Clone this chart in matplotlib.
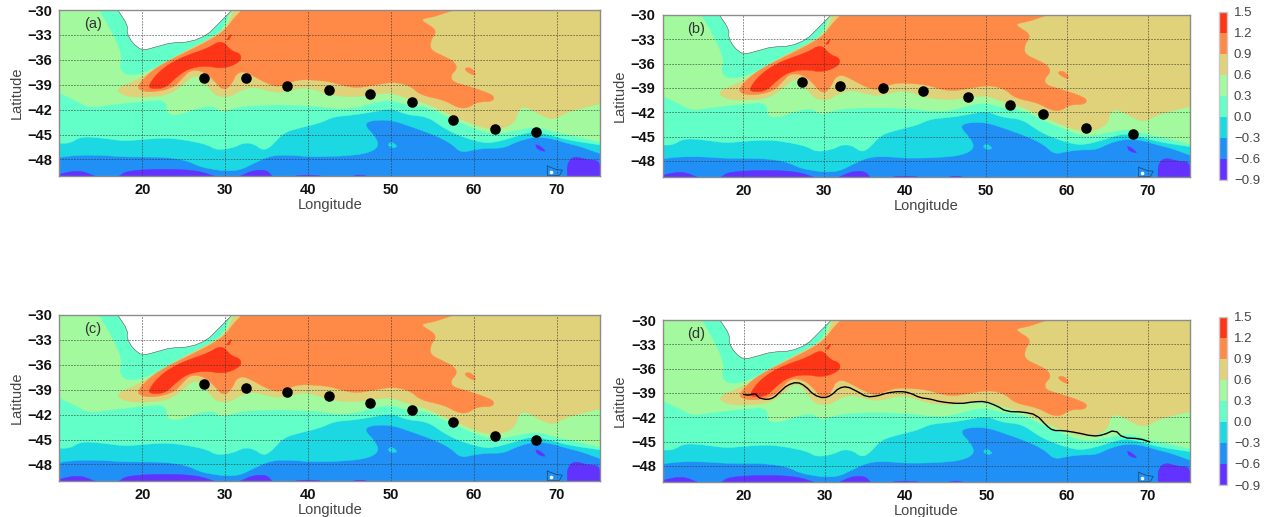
import numpy as np
import matplotlib
matplotlib.use("Agg")
import matplotlib.pyplot as plt
from matplotlib.colors import ListedColormap, BoundaryNorm
from matplotlib.cm import ScalarMappable

plt.rcParams['font.family'] = ['Liberation Sans', 'DejaVu Sans']

levels = [-0.9, -0.6, -0.3, 0.0, 0.3, 0.6, 0.9, 1.2, 1.5]
colors = ['#6232FF', '#2090F7', '#1CD8E2', '#63FFC8', '#A3F99D', '#DFD27A', '#FF8A47', '#FF3518']
xticks = [20, 30, 40, 50, 60, 70]
yticks = [-30, -33, -36, -39, -42, -45, -48]
panel_labels = ['(a)', '(b)', '(c)', '(d)']

# Contour boundaries (longitude, latitude)
bound_m03 = [(10,-47.75),(12.2,-47.5),(15,-47.5),(17.8,-47.7),(20,-47.7),(23,-47.75),(25.4,-48.15),(27,-48.9),(28.6,-49.2),(30,-49.4),(31.8,-49.3),(33.4,-48.5),(35.6,-47.5),(38.2,-47.5),(40.3,-47.7),(44.3,-47.6),(47.1,-47.3),(48.55,-46.5),(48.15,-45.3),(46.75,-43.85),(47.55,-43.3),(50,-43.25),(52.4,-44.05),(55.2,-45.05),(57.2,-46.05),(58.4,-47.2),(60,-46.85),(61.6,-46.65),(63.6,-46.65),(65.2,-45.85),(67.2,-45.3),(69.2,-45.45),(71.2,-46.05),(72.85,-46.45),(75.2,-47.3)]
bound_00 = [(10,-46.05),(11.3,-46.05),(12.6,-45.25),(15,-45.4),(17.8,-45.8),(20,-45.6),(23,-45.4),(25.4,-45.7),(27.8,-46.2),(29,-46.9),(31,-46.6),(32.2,-46),(33.4,-46.1),(34.6,-46.95),(35.6,-46.4),(37,-44.8),(39,-44.2),(41.5,-43.6),(43.1,-42.85),(45.5,-42.65),(48,-42.25),(50,-41.85),(52,-42.65),(54.4,-42.85),(56.4,-44.25),(58,-45.05),(60.4,-45.85),(62,-46.05),(64.4,-45.45),(66.8,-44.65),(68.4,-44.85),(71.2,-45.65),(75.2,-46.25)]
bound_03 = [(10,-40),(12.2,-41),(13.6,-41.8),(16.2,-41.4),(20,-41),(22.9,-40.75),(23,-42.6),(24.6,-42.6),(26.6,-41.8),(28.6,-41.5),(29.6,-42.4),(31,-41.8),(33,-41.5),(37,-41.4),(41.4,-41.6),(42.7,-41.85),(45.5,-41.85),(48.35,-41.05),(50,-40.85),(52,-41.45),(54.4,-41.65),(57.2,-43.05),(59.6,-44.05),(61.6,-44.85),(63.6,-44.85),(65.2,-44.45),(67.6,-44.05),(69.6,-44.65),(72.45,-45.25),(75.2,-45.9)]
bound_06 = [(31.04,-30),(30.24,-32),(28.64,-33.2),(25.44,-34.8),(22.24,-36.6),(19.84,-38.25),(16.64,-39.55),(18.04,-40.45),(20.64,-40.5),(23.04,-40.25),(24.64,-39.25),(26.04,-37.95),(27.04,-38),(28.04,-39.4),(29.04,-40.45),(30.64,-40.45),(31.84,-39.65),(33.44,-39.25),(35.04,-39.7),(36.64,-40),(39.04,-39.4),(40.3,-39.4),(42.7,-40.25),(45.5,-40.5),(48.35,-40.1),(50,-39.95),(52,-40.65),(54.4,-41.3),(57.2,-42.65),(59.6,-43.65),(61.6,-44.35),(63.6,-44.25),(65,-43.45),(65.4,-41.85),(66.4,-41.65),(68,-42.65),(69.6,-43.25),(71.25,-42.25),(75.2,-41.3)]
bound_09 = [(32.04,-30),(31.04,-31),(29.84,-32.6),(27.84,-33.8),(25.44,-35),(23.04,-36.2),(21.04,-37.4),(19.24,-39.3),(20.24,-39.85),(21.84,-39.85),(23.84,-39.3),(24.84,-38.2),(25.84,-37.2),(27.44,-37.4),(28.64,-38.45),(29.44,-39.45),(30.24,-39.55),(31.04,-38.45),(31.24,-37.85),(32.04,-37.35),(33.24,-37.85),(34.64,-38.65),(36.24,-39.3),(37.44,-38.85),(39.04,-38.35),(41.44,-38.5),(42.7,-38.65),(45.5,-39.45),(47.95,-39.05),(50.35,-38.65),(52.35,-39.15),(53.55,-40.25),(56.4,-40.85),(58,-41.75),(59.2,-41.85),(60.4,-41.05),(62.2,-41.05),(62.5,-40.45),(61.6,-39.95),(59.2,-39.15),(57.4,-38.65),(57.2,-37.85),(58,-37.05),(57.6,-36.2),(56.4,-35.6),(54.7,-34.8),(54.8,-33.6),(55.4,-32.8),(55.2,-32.2),(54.2,-31.6),(53.6,-31.1),(55.2,-30.8),(56.4,-30.4),(57.6,-30)]

aqua_north = [(14.84,-30),(16.24,-32.4),(17.64,-35.4),(17.24,-37),(18.04,-37.85),(19.84,-37.7),(21.84,-36.8),(24.24,-35.6),(27.04,-34.2),(29.04,-33),(30.08,-31.6),(30.6,-30)]
red_main = [(20.7,-39.2),(21.7,-37.75),(23.3,-36.45),(25.4,-35.45),(27.8,-34.65),(29.6,-33.6),(30.7,-34.9),(31.9,-35.3),(31.9,-36.2),(29.9,-37.1),(27.5,-36.7),(25.5,-37.1),(24.1,-38.1),(22.8,-39.4),(21.2,-39.5)]
red_small = [(30.16,-33.6),(30.64,-32.95),(30.76,-33),(30.48,-33.6)]
orange_island = [(58.8,-37.05),(59.5,-36.9),(60.1,-37.4),(60.2,-37.95),(59.3,-37.55)]
cyan_island = [(49.55,-46.25),(50.05,-45.85),(50.85,-46.45),(50.15,-46.65)]
purple_blobs = [
    [(10,-50),(10,-49.75),(12.44,-49.3),(14.24,-50)],
    [(17.24,-50),(18.24,-49.35),(23.04,-49.15),(26.64,-49.35),(28.64,-50)],
    [(31.84,-50),(33.44,-49.3),(35.04,-49.3),(35.64,-50)],
    [(38.5,-50),(40,-49.85),(41.5,-50)],
    [(45.5,-50),(46.2,-49.85),(47,-50)],
    [(71.25,-50),(71.25,-48.45),(72.05,-47.6),(73.65,-48.05),(75.2,-48.15),(75.2,-50)],
    [(67.45,-46.25),(67.85,-46.3),(68.75,-47.05),(68.05,-46.95),(67.6,-46.65)],
]
land = [(17.04,-30),(18.24,-31.8),(18.16,-32.8),(18.84,-34),(20,-34.9),(21.84,-34.4),(23.44,-33.95),(25.84,-33.85),(27.84,-33),(29.04,-31.8),(30.24,-30.6),(30.84,-30)]
kerguelen = [(68.85,-48.8),(69.85,-49.2),(70.65,-49.3),(70.3,-49.95),(68.85,-49.95)]
kerguelen_dot = (69.25, -49.5)

dots_a_lon = [27.5, 32.5, 37.5, 42.5, 47.5, 52.5, 57.5, 62.5, 67.5]
dots_a_lat = [-38.2, -38.2, -39.1, -39.6, -40.1, -41.1, -43.2, -44.3, -44.7]
dots_b_lon = [27.3, 32.0, 37.2, 42.2, 47.7, 53.0, 57.0, 62.4, 68.1]
dots_b_lat = [-38.3, -38.8, -39.0, -39.4, -40.1, -41.1, -42.2, -44.0, -44.7]
dots_c_lon = [27.5, 32.5, 37.5, 42.5, 47.5, 52.5, 57.5, 62.5, 67.5]
dots_c_lat = [-38.3, -38.8, -39.3, -39.75, -40.6, -41.45, -42.9, -44.6, -45.05]

front_lon = [20,20.6,21.45,21.75,22.05,22.9,23.7,24.5,25.35,26.6,27.6,28.65,29.9,30.9,31.75,32.75,34,35.2,36.45,37.7,39.35,40.55,41.8,43.05,44.3,46.75,48.4,49.85,51.3,52.5,54.55,56.2,57.45,58.25,59.5,61.15,63.2,64.45,65.9,66.9,69,70.2]
front_lat = [-39.19,-39.3,-39.05,-39.5,-39.67,-39.83,-39.6,-38.85,-38.05,-37.65,-38.15,-39.25,-39.67,-39.25,-38.4,-38.2,-38.8,-39.5,-39.4,-39,-38.8,-39,-39.6,-39.75,-40.1,-40.35,-40.1,-40.05,-40.6,-41.3,-41.35,-41.7,-43.05,-43.65,-43.65,-43.9,-44.35,-44.2,-43.55,-44.55,-44.65,-45.05]

W, H = 1270, 517
cmap = ListedColormap(colors)
norm = BoundaryNorm(levels, cmap.N)


def smooth(pts, n=2, closed=False):
    p = np.asarray(pts, float)
    for _ in range(n):
        if closed:
            q = np.roll(p, -1, axis=0)
            p = np.column_stack([0.75 * p + 0.25 * q, 0.25 * p + 0.75 * q]).reshape(-1, 2)
        else:
            a, b = p[:-1], p[1:]
            mid = np.column_stack([0.75 * a + 0.25 * b, 0.25 * a + 0.75 * b]).reshape(-1, 2)
            p = np.vstack([p[0], mid, p[-1]])
    return p


def fill_north(ax, line, color):
    p = smooth(line)
    p = np.vstack([p, [[p[-1, 0], -29], [p[0, 0], -29]]])
    ax.fill(p[:, 0], p[:, 1], color=color, lw=0.3, zorder=1)


def fill_blob(ax, blob, color, closed=True):
    p = smooth(blob, closed=closed)
    ax.fill(p[:, 0], p[:, 1], color=color, lw=0.3, zorder=1)


def box(l, t, r, b):
    return [l / W, 1 - b / H, (r - l) / W, (b - t) / H]


def background(ax):
    ax.set_facecolor(colors[1])
    fill_north(ax, bound_m03, colors[2])
    fill_blob(ax, cyan_island, colors[2])
    fill_north(ax, bound_00, colors[3])
    fill_north(ax, bound_03, colors[4])
    p = smooth(aqua_north)
    ax.fill(p[:, 0], p[:, 1], color=colors[3], lw=0.3, zorder=1)
    p = smooth(bound_06)
    p = np.vstack([p, [[75.2, -29], [31.04, -29]]])
    ax.fill(p[:, 0], p[:, 1], color=colors[5], lw=0.3, zorder=1)
    p = smooth(bound_09)
    ax.fill(p[:, 0], p[:, 1], color=colors[6], lw=0.3, zorder=1)
    fill_blob(ax, orange_island, colors[6])
    fill_blob(ax, red_main, colors[7])
    fill_blob(ax, red_small, colors[7], closed=False)
    for blob in purple_blobs:
        ax.fill(*smooth(blob, closed=False).T, color=colors[0], lw=0.3, zorder=1)
    p = smooth(land, n=1, closed=False)
    ax.fill(p[:, 0], p[:, 1], color='white', lw=0, zorder=1.5)
    ax.plot(p[:, 0], p[:, 1], color='#555555', lw=0.4, zorder=1.6)
    k = np.array(kerguelen + kerguelen[:1])
    ax.plot(k[:, 0], k[:, 1], color='#15507f', lw=0.6, zorder=1.6)
    ax.plot(*kerguelen_dot, 'o', color='white', ms=2.6, mew=0, zorder=1.7)

    ax.set_xlim(10, 75.2)
    ax.set_ylim(-50, -30)
    ax.set_xticks(xticks)
    ax.set_yticks(yticks)
    ax.tick_params(length=0, labelsize=10.5, pad=5, colors='#111111')
    ax.tick_params(axis='y', pad=5)
    for t in ax.get_xticklabels() + ax.get_yticklabels():
        t.set_fontweight('bold')
    ax.grid(True, ls=(0, (2.2, 1.6)), lw=0.55, color='#333333', alpha=0.75, zorder=2)
    ax.set_axisbelow(False)
    for s in ax.spines.values():
        s.set_color('#8c8c8c')
        s.set_linewidth(1.0)
        s.set_zorder(3)
    ax.set_xlabel('Longitude', fontsize=10.5, color='#444444', labelpad=1)
    ax.set_ylabel('Latitude', fontsize=10.5, color='#444444', labelpad=3)


fig = plt.figure(figsize=(W / 100, H / 100), dpi=100)
boxes = [(59.3, 10, 600, 176), (662.5, 15, 1190, 177), (59.3, 315, 600, 481), (663, 320, 1190, 482)]
dots = [(dots_a_lon, dots_a_lat), (dots_b_lon, dots_b_lat), (dots_c_lon, dots_c_lat), None]
for b, d, name in zip(boxes, dots, panel_labels):
    ax = fig.add_axes(box(*b))
    background(ax)
    ax.text(13.0, -31.7, name, fontsize=10.5, color='#333333', va='center', zorder=6)
    if d is not None:
        ax.plot(d[0], d[1], 'o', color='black', ms=7.6, mew=0, zorder=5, clip_on=False)
    else:
        f = smooth(np.column_stack([front_lon, front_lat]), n=1)
        ax.plot(f[:, 0], f[:, 1], color='black', lw=1.0, zorder=5)

for cb_box in [(1219, 11.7, 1227, 180), (1219, 316.7, 1227, 485)]:
    cax = fig.add_axes(box(*cb_box))
    cb = fig.colorbar(ScalarMappable(norm=norm, cmap=cmap), cax=cax, ticks=levels, spacing='uniform')
    cb.ax.set_yticklabels([f'{v:.1f}'.replace('-', '\u2212') for v in levels])
    cb.ax.tick_params(length=0, labelsize=9.5, colors='#444444', pad=5)
    cb.outline.set_edgecolor('#c8c8c8')
    cb.outline.set_linewidth(1.0)

fig.savefig('out.png', dpi=100)
